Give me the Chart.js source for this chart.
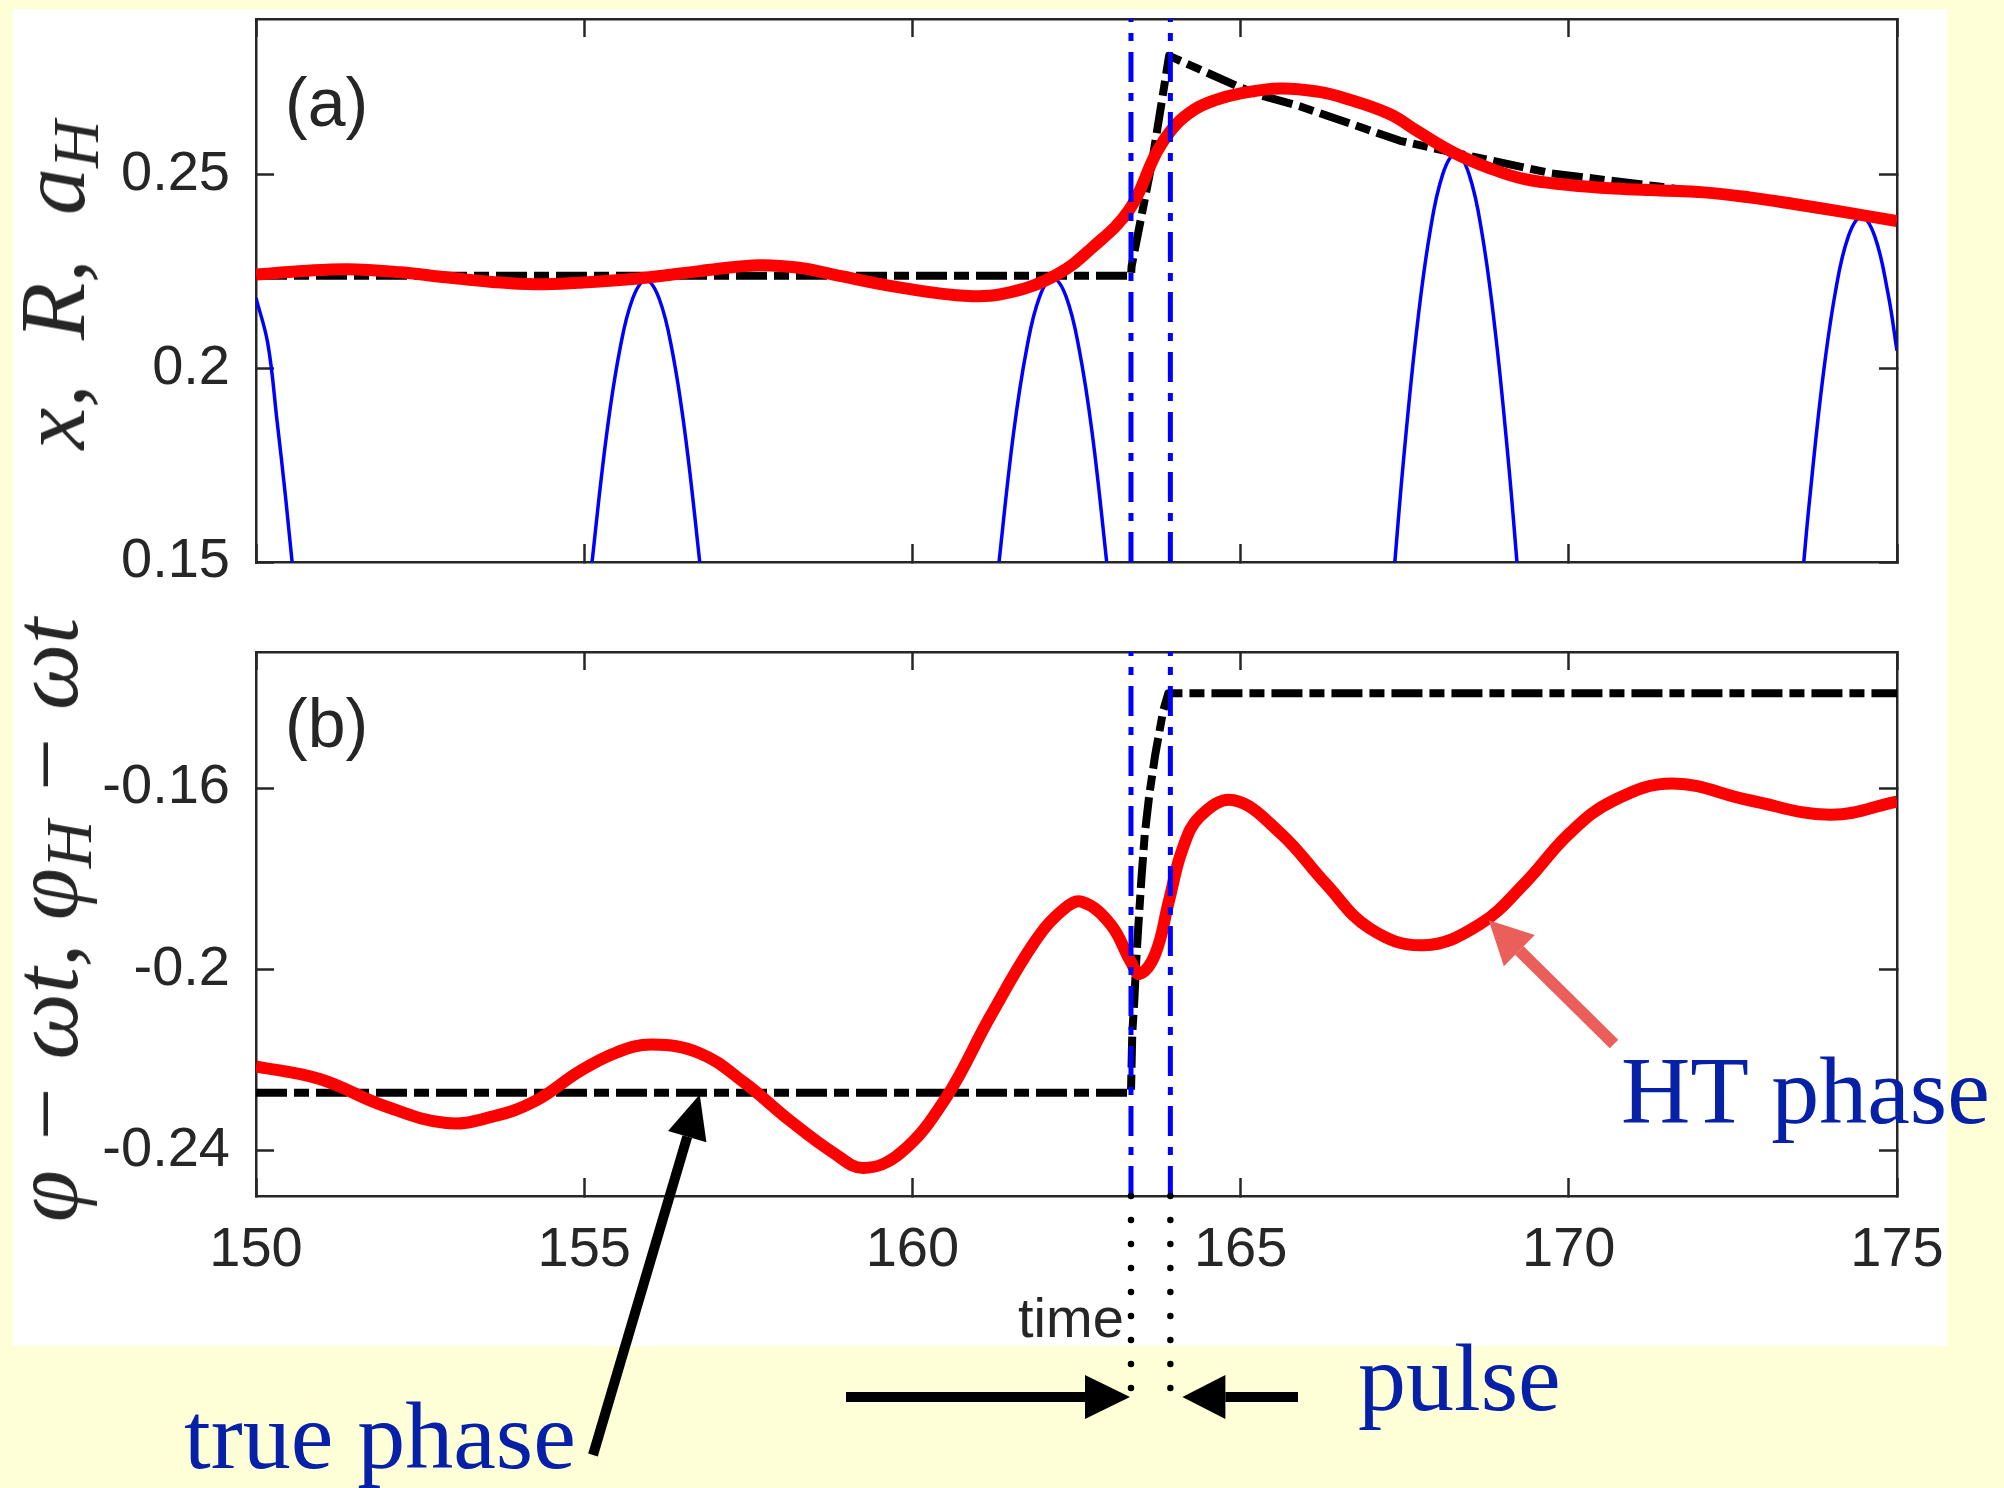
<!DOCTYPE html>
<html>
<head>
<meta charset="utf-8">
<script src="https://cdn.jsdelivr.net/npm/chart.js@4.4.0/dist/chart.umd.min.js"></script>
<style>
  html, body { margin: 0; padding: 0; }
  body { width: 2004px; height: 1488px; background: #ffffd7; position: relative; overflow: hidden; }
  #panel { position: absolute; left: 13px; top: 9px; width: 1934px; height: 1337px; background: #fff; }
  canvas { position: absolute; left: 0; }
  .note { position: absolute; white-space: nowrap; line-height: 1; }
  .sans { font-family: "Liberation Sans", Arial, sans-serif; color: #262626; }
  .serif { font-family: "Liberation Serif", "Times New Roman", serif; font-size: 96px; color: #0620a8; }
  .ylab { position: absolute; white-space: nowrap; line-height: 1; font-family: "Liberation Serif", "Times New Roman", serif;
          font-style: italic; font-size: 94px; color: #262626; transform: translate(-50%, -50%) rotate(-90deg); }
  .ylab sub { font-size: 0.7em; vertical-align: baseline; position: relative; top: 0.22em; line-height: 0; }
</style>
</head>
<body>
<div id="panel"></div>
<canvas id="chartA" width="2004" height="620" style="top:0"></canvas>
<canvas id="chartB" width="2004" height="760" style="top:620px"></canvas>
<canvas id="marks" width="2004" height="1488" style="top:0"></canvas>

<div class="ylab" style="left:52px; top:285px; word-spacing:0.22em">x, R, a<sub>H</sub></div>
<div class="ylab" style="left:45px; top:920px">φ − ωt, φ<sub>H</sub> − ωt</div>
<div class="note sans" style="left:285px; top:68px; font-size:68px">(a)</div>
<div class="note sans" style="left:285px; top:689px; font-size:68px">(b)</div>
<div class="note sans" style="left:1018px; top:1290px; font-size:56px">time</div>
<div class="note serif" style="left:184px; top:1388px">true phase</div>
<div class="note serif" style="left:1358px; top:1330px">pulse</div>
<div class="note serif" style="left:1621px; top:1043px">HT phase</div>

<script>
// tick positions
const timeTicks = [150, 155, 160, 165, 170, 175];
const ampTicks = [0.15, 0.2, 0.25];
const phaseTicks = [-0.24, -0.2, -0.16];

// start and end of the pulse
const pulse = [163.33, 163.93];

// (a) amplitude from the Hilbert transform
const ampTime = [150, 150.7, 151.4, 152.2, 152.9, 153.6, 154.26, 154.9, 155.82, 156.76,
  157.65, 158.3, 158.8, 159.8, 160.85, 161.5, 162.2, 162.71, 163.31, 163.72,
  164.0, 164.3, 164.6, 165.0, 165.6, 166.2, 166.6, 167.27, 167.7, 168.23, 168.8,
  169.33, 170.0, 170.69, 171.4, 172.06, 172.75, 173.43, 174.2, 175];
const ampHT = [0.2241, 0.2250, 0.2255, 0.2247, 0.2234, 0.2222, 0.2216, 0.2220, 0.2231, 0.2250,
  0.2265, 0.2258, 0.2241, 0.2208, 0.2186, 0.2196, 0.2241, 0.2306, 0.2410, 0.2556,
  0.2625, 0.2667, 0.2690, 0.2708, 0.2721, 0.2712, 0.2695, 0.2655, 0.2610, 0.2557, 0.2515,
  0.2487, 0.2472, 0.2463, 0.2458, 0.2453, 0.2440, 0.2423, 0.2402, 0.2379];

// (a) true amplitude R
const ampTrueTime = [150, 163.33, 163.34, 163.65, 163.91, 164.99, 165.27, 165.9, 167.43, 167.96,
  169.74, 171.37, 172.75, 174.39, 175];
const ampTrue = [0.2238, 0.2238, 0.2263, 0.2530, 0.2805, 0.2724, 0.2705, 0.2675, 0.2586, 0.2566,
  0.2502, 0.2468, 0.2438, 0.2394, 0.2380];

// (a) signal x, only the crests reach into the window (null = break)
const sigTime = [150, 150.18, 150.32, 150.45, 150.55, 150.62, 153,
  155.04, 155.12, 155.34, 155.54, 155.74, 155.94, 156.14, 156.34, 156.54, 156.76, 156.84, 159,
  161.24, 161.32, 161.54, 161.74, 161.94, 162.14, 162.34, 162.54, 162.74, 162.96, 163.04, 165,
  167.28, 167.35, 167.48, 167.68, 167.88, 168.08, 168.28, 168.48, 168.68, 168.88, 169.08, 169.21, 169.28, 171,
  173.51, 173.58, 173.66, 173.86, 174.06, 174.26, 174.46, 174.66, 174.86, 175];
const sigValue = [0.2181, 0.2063, 0.1865, 0.1668, 0.150, 0.140, null,
  0.1365, 0.150, 0.1827, 0.2045, 0.2180, 0.2226, 0.2180, 0.2045, 0.1827, 0.150, 0.1365, null,
  0.1368, 0.150, 0.1831, 0.2049, 0.2185, 0.2231, 0.2185, 0.2049, 0.1831, 0.150, 0.1368, null,
  0.1351, 0.150, 0.1759, 0.2094, 0.2345, 0.2500, 0.2552, 0.2500, 0.2345, 0.2094, 0.1759, 0.150, 0.1351, null,
  0.1365, 0.150, 0.1646, 0.1961, 0.2195, 0.2340, 0.2389, 0.2340, 0.2195, 0.2045];

// (b) phase from the Hilbert transform
const phaseTime = [150, 150.97, 151.95, 152.9, 153.6, 154.26, 154.94, 155.5, 156.03,
  156.76, 157.44, 158.12, 158.8, 159.25, 159.82, 160.5, 161.19, 161.87, 162.3,
  162.58, 163.02, 163.33, 163.46, 163.70, 163.91, 164.11, 164.38, 164.89, 165.61,
  166.29, 166.97, 167.79, 168.64, 169.33, 170.01, 170.69, 171.58, 172.75, 173.98, 175];
const phaseHT = [-0.2214, -0.2242, -0.2301, -0.2339, -0.2325, -0.2290, -0.2224, -0.2183, -0.2166,
  -0.2185, -0.2250, -0.2332, -0.2405, -0.2438, -0.2405, -0.2286, -0.2103, -0.1938, -0.1868,
  -0.1851, -0.1901, -0.1984, -0.2010, -0.1966, -0.1848, -0.1737, -0.1663, -0.1627, -0.1700,
  -0.1810, -0.1910, -0.1947, -0.1901, -0.1810, -0.1700, -0.1627, -0.1590, -0.1627, -0.1659, -0.1630];

// (b) true phase
const phaseTrueTime = [150, 163.33, 163.35, 163.38, 163.41, 163.44, 163.49, 163.54, 163.61, 163.70, 163.82, 163.90, 175];
const phaseTrue = [-0.2272, -0.2272, -0.2140, -0.2071, -0.1982, -0.1909, -0.1798, -0.1702, -0.1614, -0.1526, -0.1430, -0.1391, -0.1391];

const axisColor = '#262626';
const tickFont = { family: '"Liberation Sans", Arial, sans-serif', size: 56 };
const chartBTop = 620;

const pts = (xs, ys) => xs.map((x, i) => ({ x: x, y: ys[i] }));

function pulseLines(yMin, yMax) {
  return pulse.map(t => ({
    data: [{ x: t, y: yMin }, { x: t, y: yMax }],
    borderColor: '#0000ff', borderWidth: 5, borderDash: [30, 11, 8, 11]
  }));
}

// fixed axis sizes so both plot boxes sit at the same place; label overhang is ignored
function fixSize(prop, size) {
  return s => {
    s[prop] = size;
    s.paddingTop = s.paddingBottom = s.paddingLeft = s.paddingRight = 0;
  };
}

function buildScales(yMin, yMax, yTicks, showTime, topH, bottomH) {
  const grid = { drawOnChartArea: false, tickLength: -18, tickWidth: 2.5, color: axisColor };
  const border = { color: axisColor, width: 2.5 };
  const setTicks = list => s => { s.ticks = list.map(v => ({ value: v })); };
  return {
    x: {
      type: 'linear', position: 'bottom', min: 150, max: 175, grid, border,
      afterBuildTicks: setTicks(timeTicks),
      afterFit: fixSize('height', bottomH),
      ticks: { display: showTime, padding: 39, font: tickFont, color: axisColor,
               maxRotation: 0, autoSkip: false, callback: v => String(v) }
    },
    xTop: {
      type: 'linear', position: 'top', min: 150, max: 175, grid, border,
      afterBuildTicks: setTicks(timeTicks),
      afterFit: fixSize('height', topH),
      ticks: { display: false }
    },
    y: {
      type: 'linear', position: 'left', min: yMin, max: yMax, grid, border,
      afterBuildTicks: setTicks(yTicks),
      afterFit: fixSize('width', 256),
      ticks: { padding: 44, font: tickFont, color: axisColor, callback: v => String(v) }
    },
    yRight: {
      type: 'linear', position: 'right', min: yMin, max: yMax, grid, border,
      afterBuildTicks: setTicks(yTicks),
      afterFit: fixSize('width', 2004 - 1897),
      ticks: { display: false }
    }
  };
}

const common = {
  responsive: false,
  animation: false,
  devicePixelRatio: 1,
  layout: { padding: 0 },
  plugins: { legend: { display: false }, tooltip: { enabled: false } },
  elements: { point: { radius: 0 }, line: { borderJoinStyle: 'round', tension: 0 } }
};

const chartA = new Chart(document.getElementById('chartA'), {
  type: 'line',
  data: {
    datasets: [
      ...pulseLines(0.15, 0.29),
      { data: pts(ampTime, ampHT), borderColor: '#ff0000', borderWidth: 12, tension: 0.4 },
      { data: pts(ampTrueTime, ampTrue), borderColor: '#000000', borderWidth: 8, borderDash: [31, 7, 15, 7] },
      { data: pts(sigTime, sigValue), borderColor: '#0000ff', borderWidth: 3.5, tension: 0.4 }
    ]
  },
  options: { ...common, scales: buildScales(0.15, 0.29, ampTicks, false, 19, 620 - 562) }
});

const chartB = new Chart(document.getElementById('chartB'), {
  type: 'line',
  data: {
    datasets: [
      ...pulseLines(-0.25, -0.13),
      { data: pts(phaseTime, phaseHT), borderColor: '#ff0000', borderWidth: 12, tension: 0.4 },
      { data: pts(phaseTrueTime, phaseTrue), borderColor: '#000000', borderWidth: 8, borderDash: [31, 7, 15, 7] }
    ]
  },
  options: { ...common, scales: buildScales(-0.25, -0.13, phaseTicks, true, 32, 760 - 576) }
});

function arrow(ctx, x0, y0, x1, y1, w, headLen, headHalf, color) {
  const a = Math.atan2(y1 - y0, x1 - x0);
  const bx = x1 - headLen * Math.cos(a), by = y1 - headLen * Math.sin(a);
  ctx.save();
  ctx.strokeStyle = color; ctx.fillStyle = color; ctx.lineWidth = w;
  ctx.beginPath(); ctx.moveTo(x0, y0); ctx.lineTo(bx, by); ctx.stroke();
  ctx.beginPath();
  ctx.moveTo(x1, y1);
  ctx.lineTo(bx + headHalf * Math.sin(a), by - headHalf * Math.cos(a));
  ctx.lineTo(bx - headHalf * Math.sin(a), by + headHalf * Math.cos(a));
  ctx.closePath(); ctx.fill();
  ctx.restore();
}

// dotted guides and arrows laid over both panels
(function drawNotes() {
  const ctx = document.getElementById('marks').getContext('2d');
  const xs = chartB.scales.x, ys = chartB.scales.y;
  const px = t => xs.getPixelForValue(t);
  const py = v => chartBTop + ys.getPixelForValue(v);

  ctx.save();
  ctx.strokeStyle = '#000'; ctx.lineWidth = 6.5; ctx.lineCap = 'round'; ctx.setLineDash([0, 24]);
  pulse.forEach(t => {
    ctx.beginPath();
    ctx.moveTo(px(t), chartBTop + ys.bottom);
    ctx.lineTo(px(t), 1392);
    ctx.stroke();
  });
  ctx.restore();

  arrow(ctx, 846, 1397, px(pulse[0]) - 1, 1397, 10, 45, 22, '#000');
  arrow(ctx, 1298, 1397, px(pulse[1]) + 12, 1397, 10, 43, 22, '#000');
  arrow(ctx, 593, 1455, px(156.76), py(-0.2276), 10, 44, 20, '#000');
  arrow(ctx, 1614, 1044, px(168.78), py(-0.1892), 12, 43, 22, '#ea5f5a');
})();
</script>
</body>
</html>
